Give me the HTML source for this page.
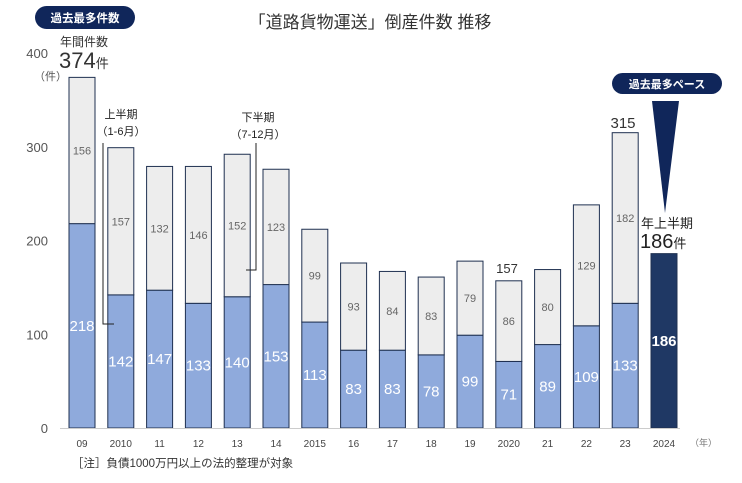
<!DOCTYPE html>
<html><head><meta charset="utf-8">
<style>
body{margin:0;background:#fff;}
svg{display:block;font-family:"Liberation Sans","Noto Sans CJK JP",sans-serif;}
</style></head><body>
<svg id="c" width="742" height="483">
<text x="370" y="28" font-size="17" fill="#333" text-anchor="middle">「道路貨物運送」倒産件数  推移</text>
<rect x="35" y="6" width="100" height="23" rx="11.5" fill="#10265a"/>
<text x="85" y="22" font-size="11.5" font-weight="bold" fill="#fff" text-anchor="middle">過去最多件数</text>
<text x="60" y="46" font-size="12" fill="#333">年間件数</text>
<text x="59" y="68" font-size="22" fill="#333">374<tspan font-size="13">件</tspan></text>
<text x="34" y="80" font-size="11" fill="#555">（件）</text>
<g id="yticks"></g>
<g id="bars"></g>
<line x1="60" y1="428.5" x2="680" y2="428.5" stroke="#ccc"/>
<polyline points="103,143 103,324 114,324" fill="none" stroke="#222"/>
<text x="121" y="118" font-size="11" fill="#222" text-anchor="middle">上半期</text>
<text x="121" y="135" font-size="11" fill="#222" text-anchor="middle">（1-6月）</text>
<polyline points="256,143 256,270 246,270" fill="none" stroke="#222"/>
<text x="258" y="121" font-size="11" fill="#222" text-anchor="middle">下半期</text>
<text x="258" y="138" font-size="11" fill="#222" text-anchor="middle">（7-12月）</text>
<text x="623" y="128" font-size="15" fill="#333" text-anchor="middle">315</text>
<text x="507" y="273" font-size="13" fill="#333" text-anchor="middle">157</text>
<rect x="612" y="73" width="110" height="21" rx="10.5" fill="#10265a"/>
<text x="667" y="88" font-size="11" font-weight="bold" fill="#fff" text-anchor="middle">過去最多ペース</text>
<polygon points="652,101 679,101 665,213" fill="#10265a"/>
<text x="641" y="228" font-size="13" fill="#222">年上半期</text>
<text x="640" y="248" font-size="20" fill="#222">186<tspan font-size="13">件</tspan></text>
<text x="690" y="446" font-size="9" fill="#777">（年）</text>
<text x="72" y="467" font-size="11.5" fill="#333">［注］負債1000万円以上の法的整理が対象</text>
</svg>
<script>
const years=["09","2010","11","12","13","14","2015","16","17","18","19","2020","21","22","23","2024"];
const firstHalf=[218,142,147,133,140,153,113,83,83,78,99,71,89,109,133,186];
const secondHalf=[156,157,132,146,152,123,99,93,84,83,79,86,80,129,182,null];
const yTicks=[0,100,200,300,400];
const NS="http://www.w3.org/2000/svg";
const y0=428,kY=0.9375,x0=82,dx=38.8,bw=26;
const yS=v=>y0-v*kY, xS=i=>x0+i*dx;
function mk(t,a,p){const e=document.createElementNS(NS,t);for(const k in a)e.setAttribute(k,a[k]);p.appendChild(e);return e;}
const yt=document.getElementById('yticks'),g=document.getElementById('bars');
yTicks.forEach(v=>{const t=mk('text',{x:48,y:yS(v)+5,'font-size':13,fill:'#555','text-anchor':'end'},yt);t.textContent=v;

});
years.forEach((yr,i)=>{
 const cx=xS(i),a=firstHalf[i],b=secondHalf[i],last=(b===null);
 const r1=mk('rect',{x:cx-bw/2,y:yS(a),width:bw,height:a*kY,fill:last?'#1f3864':'#8faadc',stroke:'#1f3050','stroke-width':1},g);
 
 
 const t1=mk('text',{x:cx,y:yS(a/2)+5,'font-size':15,'font-weight':last?'bold':'normal',fill:'#fff','text-anchor':'middle'},g);t1.textContent=a;
 
 
 if(!last){
  const r2=mk('rect',{x:cx-bw/2,y:yS(a+b),width:bw,height:b*kY,fill:'#ededed',stroke:'#1f3050','stroke-width':1},g);
  
  
  const t2=mk('text',{x:cx,y:yS(a+b/2)+4,'font-size':11,fill:'#666','text-anchor':'middle'},g);t2.textContent=b;
  
  
 }
 const tx=mk('text',{x:cx,y:447,'font-size':10,fill:'#444','text-anchor':'middle'},g);tx.textContent=yr;
 
 
});
</script>
</body></html>
